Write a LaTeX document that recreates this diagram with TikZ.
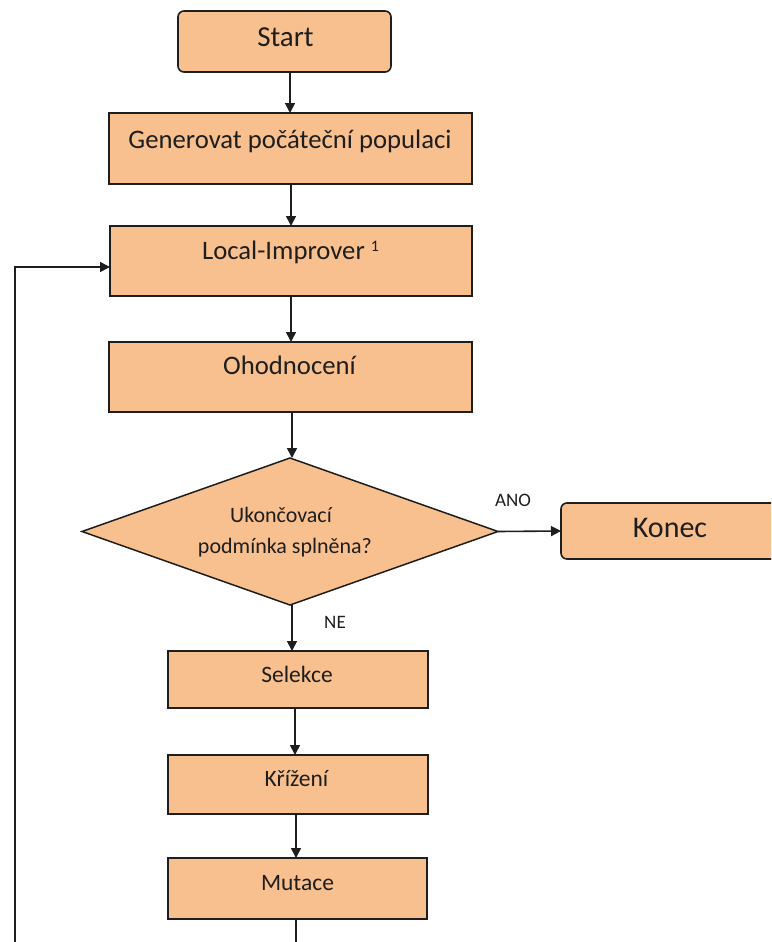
\documentclass[tikz,border=0pt]{standalone}
\usepackage{fontspec}
\setmainfont{Carlito}
\usetikzlibrary{shapes.geometric,arrows.meta}
\definecolor{boxfill}{RGB}{248,192,143}
\definecolor{ink}{RGB}{30,30,30}
\begin{document}
\begin{tikzpicture}[x=1pt,y=-1pt,
  every node/.style={inner sep=0pt,outer sep=0pt},
  block/.style={draw=ink,line width=1.6pt,fill=boxfill,rectangle},
  term/.style={block,rounded corners=6pt},
  decide/.style={draw=ink,line width=1.5pt,fill=boxfill,diamond,minimum width=416pt,minimum height=147pt},
  lbl/.style={anchor=base,text=ink},
  arr/.style={draw=ink,line width=1.6pt,-{Triangle[length=10pt,width=10pt]}}
]
\clip (0,0) rectangle (771,942);
\fill[white] (0,0) rectangle (771,942);

% process boxes
\node[term,minimum width=213pt,minimum height=61pt] (start) at (284.5,41.5) {};
\node[block,minimum width=363pt,minimum height=71pt] (gen) at (290.5,148.5) {};
\node[block,minimum width=362pt,minimum height=70pt] (loc) at (291,261) {};
\node[block,minimum width=363pt,minimum height=70pt] (oh) at (290.5,377) {};
\node[decide] (dia) at (290,531.5) {};
\node[term,minimum width=218pt,minimum height=56pt] (konec) at (670,531) {};
\node[block,minimum width=260pt,minimum height=57pt] (sel) at (298,679.5) {};
\node[block,minimum width=260pt,minimum height=59pt] (kriz) at (298,784.5) {};
\node[block,minimum width=259pt,minimum height=61pt] (mut) at (297.5,888.5) {};

% texts
\node[lbl,font=\fontsize{29}{34}\selectfont] (start-t) at (285.5,47) {Start};
\node[lbl,font=\fontsize{26.7}{32}\selectfont] (gen-t) at (290,148) {Generovat počáteční populaci};
\node[lbl,font=\fontsize{26.7}{32}\selectfont] (loc-t) at (290.5,259) {Local-Improver \raisebox{8pt}{\fontsize{16}{16}\selectfont 1}};
\node[lbl,font=\fontsize{26.7}{32}\selectfont] (oh-t) at (289.5,374) {Ohodnocení};
\node[lbl,font=\fontsize{22}{26}\selectfont] (dia-t1) at (281,522) {Ukončovací};
\node[lbl,font=\fontsize{22}{26}\selectfont] (dia-t2) at (285,553) {podmínka splněna?};
\node[lbl,font=\fontsize{30}{36}\selectfont] (konec-t) at (670,537) {Konec};
\node[lbl,font=\fontsize{23.5}{28}\selectfont] (sel-t) at (297,682) {Selekce};
\node[lbl,font=\fontsize{23.5}{28}\selectfont] (kriz-t) at (296.5,786) {Křížení};
\node[lbl,font=\fontsize{23.5}{28}\selectfont] (mut-t) at (297.5,890) {Mutace};
\node[lbl,font=\fontsize{19}{22}\selectfont] (ano) at (513,506) {ANO};
\node[lbl,font=\fontsize{19}{22}\selectfont] (ne) at (335,628) {NE};

% connectors (kept on whole-point columns so they stay crisp)
\draw[arr] ([xshift=5.5pt]start.south) -- ([xshift=5.5pt]start.south |- gen.north);
\draw[arr] ([xshift=0.5pt]gen.south) -- ([xshift=0.5pt]gen.south |- loc.north);
\draw[arr] (loc.south) -- (loc.south |- oh.north);
\draw[arr] ([xshift=1.5pt]oh.south) -- ([xshift=1.5pt]oh.south |- dia.north);
\draw[arr] (dia.east) -- (konec.west);
\draw[arr] ([xshift=2pt]dia.south) -- ([xshift=2pt]dia.south |- sel.north);
\draw[arr] ([xshift=-3pt]sel.south) -- ([xshift=-3pt]sel.south |- kriz.north);
\draw[arr] ([xshift=-2pt]kriz.south) -- ([xshift=-2pt]kriz.south |- mut.north);

% feedback loop back to the local improver
\coordinate (loopbot) at (15,990);
\draw[arr] ([xshift=-1.5pt]mut.south) |- (loopbot) |- ([yshift=-6pt]loc.west);
\end{tikzpicture}
\end{document}
